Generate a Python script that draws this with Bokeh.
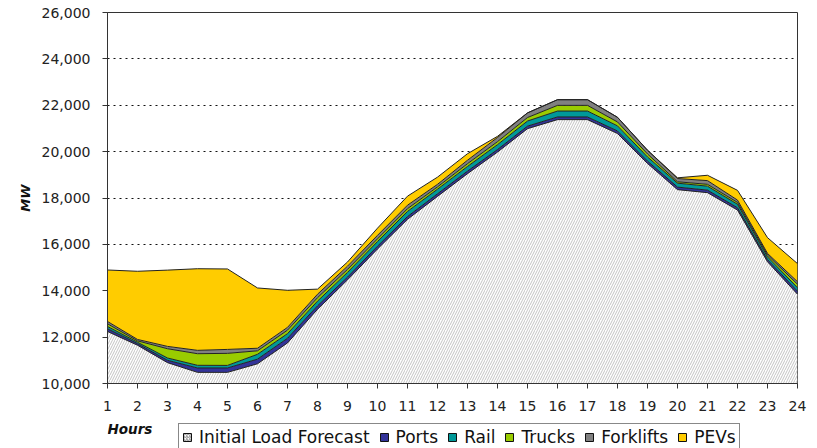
import numpy as np
from bokeh.plotting import figure
from bokeh.layouts import column
from bokeh.models import (FixedTicker, NumeralTickFormatter, Legend, LegendItem, Label)
from bokeh.embed import file_html
from bokeh.resources import INLINE

# ---- data ----
hours = [1, 2, 3, 4, 5, 6, 7, 8, 9, 10, 11, 12, 13, 14, 15, 16, 17, 18, 19, 20, 21, 22, 23, 24]
initial_load = [12245, 11650, 10900, 10480, 10480, 10850, 11750, 13200, 14470, 15800, 17080, 18070,
                19050, 19980, 20990, 21380, 21380, 20780, 19490, 18360, 18230, 17480, 15250, 13850]
ports = [115, 70, 100, 190, 190, 200, 200, 150, 120, 120, 120, 110,
         110, 110, 110, 115, 115, 110, 100, 110, 110, 100, 90, 130]
rail = [100, 60, 100, 115, 110, 210, 200, 200, 200, 200, 220, 200,
        200, 210, 220, 255, 255, 220, 180, 170, 170, 150, 120, 150]
trucks = [115, 60, 400, 500, 520, 150, 150, 150, 130, 120, 120, 100,
          120, 130, 150, 245, 245, 170, 130, 60, 80, 80, 80, 150]
forklifts = [100, 60, 100, 145, 170, 110, 120, 150, 140, 150, 150, 110,
             150, 180, 200, 245, 245, 200, 160, 140, 160, 100, 70, 110]
pevs = [2220, 2940, 3290, 3520, 3470, 2600, 1600, 220, 180, 310, 390, 310,
        280, 50, 0, 0, 0, 0, 0, 30, 230, 420, 680, 780]

series_names = ["Initial Load Forecast", "Ports", "Rail", "Trucks", "Forklifts", "PEVs"]
series_colors = ["#FFFFFF", "#333399", "#009999", "#99CC00", "#808080", "#FFCC00"]
y_ticks = [10000, 12000, 14000, 16000, 18000, 20000, 22000, 24000, 26000]
y_start, y_end = 10000, 26000

FONT = "DejaVu Sans"
HATCH_COLOR = "#C4C4C4"

p = figure(width=817, height=416, x_range=(hours[0], hours[-1]), y_range=(y_start, y_end),
           output_backend="svg", toolbar_location=None,
           min_border_left=107, min_border_right=20, min_border_top=12, min_border_bottom=33)
p.background_fill_color = "white"
p.border_fill_color = "white"
p.outline_line_color = "#333333"
p.outline_line_width = 1

# axes
p.xaxis.ticker = FixedTicker(ticks=hours)
p.yaxis.ticker = FixedTicker(ticks=y_ticks)
p.yaxis.formatter = NumeralTickFormatter(format="0,0")
for ax in (p.xaxis[0], p.yaxis[0]):
    ax.major_label_text_font = FONT
    ax.major_label_text_font_size = "14px"
    ax.major_label_text_color = "#222222"
    ax.axis_line_color = "#333333"
    ax.major_tick_line_color = "#333333"
    ax.major_tick_in = 0
    ax.major_tick_out = 5
    ax.minor_tick_line_color = None
p.xaxis.major_label_standoff = 12
p.yaxis.major_label_standoff = 12
p.yaxis.axis_label = "MW"
p.yaxis.axis_label_text_font = FONT
p.yaxis.axis_label_text_font_style = "bold italic"
p.yaxis.axis_label_text_font_size = "13px"
p.yaxis.axis_label_text_color = "#111111"
p.yaxis.axis_label_standoff = 6

p.xgrid.grid_line_color = None
p.ygrid.grid_line_color = "#111111"
p.ygrid.grid_line_dash = "2 4"
p.ygrid.grid_line_width = 1

# stacked areas
layers = [np.array(initial_load, float), np.array(ports, float), np.array(rail, float),
          np.array(trucks, float), np.array(forklifts, float), np.array(pevs, float)]
lower = np.zeros(len(hours))
tops = []
for i, vals in enumerate(layers):
    upper = lower + vals
    if i == 0:
        p.varea(x=hours, y1=lower, y2=upper, fill_color="white",
                hatch_pattern="/", hatch_color=HATCH_COLOR, hatch_scale=5, hatch_weight=1)
    else:
        p.varea(x=hours, y1=lower, y2=upper, fill_color=series_colors[i])
    tops.append(upper)
    lower = upper
for t in tops:
    p.line(x=hours, y=t, line_color="#222222", line_width=1)

# ---- bottom strip: "Hours" label and legend (frame aligned with the chart's frame) ----
strip_w, strip_h = 817, 32
leg = figure(width=strip_w, height=strip_h, x_range=(0, 1), y_range=(0, 1),
             output_backend="svg", toolbar_location=None,
             min_border_left=107, min_border_right=20, min_border_top=0, min_border_bottom=0)
leg.axis.visible = False
leg.grid.grid_line_color = None
leg.outline_line_color = None
leg.background_fill_color = "white"
leg.border_fill_color = "white"

nan = [np.nan]
items = []
for i, name in enumerate(series_names):
    if i == 0:
        r = leg.quad(left=nan, right=nan, top=nan, bottom=nan, fill_color="white", line_color="#111111",
                     hatch_pattern="/", hatch_color="#8C8C8C", hatch_scale=3, hatch_weight=1)
    else:
        r = leg.quad(left=nan, right=nan, top=nan, bottom=nan, fill_color=series_colors[i],
                     line_color="#111111")
    items.append(LegendItem(label=name, renderers=[r]))

legend = Legend(items=items, orientation="horizontal", location=(71, -3),
                label_text_font=FONT, label_text_font_size="17px", label_text_color="#111111",
                glyph_width=10, glyph_height=10, label_height=18, label_standoff=7, spacing=9,
                padding=3, margin=0, border_line_color="#111111", border_line_width=1,
                background_fill_color="white", background_fill_alpha=1)
leg.add_layout(legend, "center")

hours_label = Label(x=0, y=20, x_units="screen", y_units="screen",
                    text="Hours", text_font=FONT, text_font_style="bold italic",
                    text_font_size="13.5px", text_align="left", text_baseline="middle",
                    text_color="#111111")
leg.add_layout(hours_label)

layout = column(p, leg, spacing=0)
open("out.html", "w").write(file_html(layout, INLINE))
